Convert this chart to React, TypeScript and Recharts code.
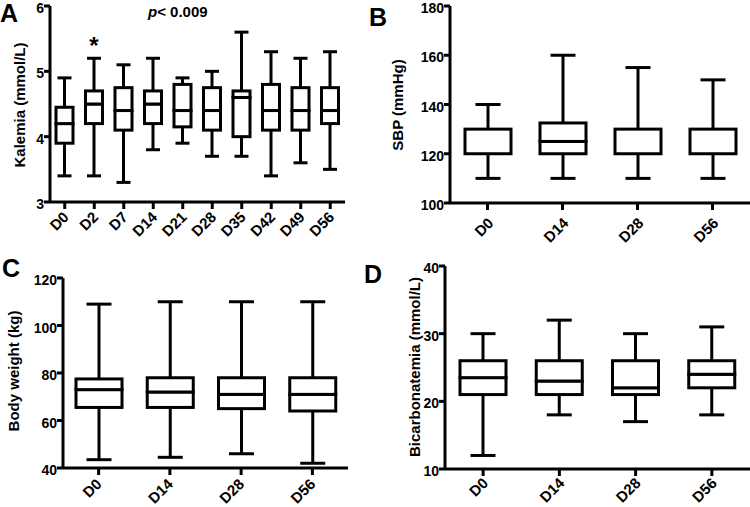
import { ComposedChart, Bar, XAxis, YAxis } from "recharts";

const FONT = '"Liberation Sans", Arial, Helvetica, sans-serif';

// A: kalemia
const kalCats = ["D0", "D2", "D7", "D14", "D21", "D28", "D35", "D42", "D49", "D56"];
const kalMin = [3.4, 3.4, 3.3, 3.8, 3.9, 3.7, 3.7, 3.4, 3.6, 3.5];
const kalQ1 = [3.9, 4.2, 4.1, 4.2, 4.15, 4.1, 4.0, 4.1, 4.1, 4.2];
const kalMed = [4.2, 4.5, 4.4, 4.5, 4.4, 4.4, 4.6, 4.4, 4.4, 4.4];
const kalQ3 = [4.45, 4.7, 4.75, 4.7, 4.8, 4.75, 4.7, 4.8, 4.75, 4.75];
const kalMax = [4.9, 5.2, 5.1, 5.2, 4.9, 5.0, 5.6, 5.3, 5.2, 5.3];
const kalMarks = ["", "*", "", "", "", "", "", "", "", ""];
const kalTicks = [3, 4, 5, 6];

// B: SBP
const visitCats = ["D0", "D14", "D28", "D56"];
const sbpMin = [110, 110, 110, 110];
const sbpQ1 = [120, 120, 120, 120];
const sbpMed = [120, 125, 120, 120];
const sbpQ3 = [130, 132.5, 130, 130];
const sbpMax = [140, 160, 155, 150];
const sbpTicks = [100, 120, 140, 160, 180];

// C: body weight
const bwMin = [43.5, 44.5, 46, 42];
const bwQ1 = [65.5, 65.5, 65, 64];
const bwMed = [73, 72, 71, 71];
const bwQ3 = [77.5, 78, 78, 78];
const bwMax = [109, 110, 110, 110];
const bwTicks = [40, 60, 80, 100, 120];

// D: bicarbonatemia
const bicMin = [12, 18, 17, 18];
const bicQ1 = [21, 21, 21, 22];
const bicMed = [23.5, 23, 22, 24];
const bicQ3 = [26, 26, 26, 26];
const bicMax = [30, 32, 30, 31];
const bicTicks = [10, 20, 30, 40];

function buildRows(cats, mins, q1s, meds, q3s, maxs, marks = []) {
  return cats.map((name, i) => ({
    name,
    base: mins[i],
    lw: q1s[i] - mins[i],
    bl: meds[i] - q1s[i],
    bh: q3s[i] - meds[i],
    hw: maxs[i] - q3s[i],
    mark: marks[i] || "",
  }));
}

const SW = 3;

const lowWhisker = (capW) => (p) => {
  const { x, y, width, height } = p;
  const cx = x + width / 2;
  const yb = y + height;
  return (
    <g stroke="#000" strokeWidth={SW}>
      <line x1={cx} x2={cx} y1={y} y2={yb} />
      <line x1={cx - capW / 2} x2={cx + capW / 2} y1={yb} y2={yb} />
    </g>
  );
};

const highWhisker = (capW) => (p) => {
  const { x, y, width, height, payload } = p;
  const cx = x + width / 2;
  return (
    <g>
      <g stroke="#000" strokeWidth={SW}>
        <line x1={cx} x2={cx} y1={y} y2={y + height} />
        <line x1={cx - capW / 2} x2={cx + capW / 2} y1={y} y2={y} />
      </g>
      {payload && payload.mark ? (
        <text x={cx} y={y - 4} textAnchor="middle" fontSize={24} fontWeight={700} fontFamily={FONT} fill="#000">
          {payload.mark}
        </text>
      ) : null}
    </g>
  );
};

const boxPart = (p) => {
  const { x, y, width, height } = p;
  if (!height || height <= 0) return <g />;
  return <rect x={x} y={y} width={width} height={height} fill="#fff" stroke="#000" strokeWidth={SW} />;
};

const makeXTick = (dx, dy) => (p) => {
  const { x, y, payload } = p;
  const ax = x + dx;
  const ay = y + dy;
  return (
    <text
      x={ax}
      y={ay}
      transform={`rotate(-45, ${ax}, ${ay})`}
      textAnchor="end"
      fontSize={15}
      fontWeight={700}
      fontFamily={FONT}
      fill="#000"
    >
      {payload.value}
    </text>
  );
};

const YTick = (p) => {
  const { x, y, payload } = p;
  return (
    <text x={x} y={y} dy="0.5em" textAnchor="end" fontSize={14} fontWeight={700} fontFamily={FONT} fill="#000">
      {payload.value}
    </text>
  );
};

function BoxPanel({ rows, ticks, width, height, margin, yWidth, xHeight, barSize, capW, tickDx, tickDy }) {
  return (
    <ComposedChart width={width} height={height} data={rows} margin={margin}>
      <XAxis
        dataKey="name"
        interval={0}
        height={xHeight}
        tick={makeXTick(tickDx, tickDy)}
        tickSize={7}
        tickMargin={0}
        stroke="#000"
        axisLine={{ stroke: "#000", strokeWidth: SW }}
        tickLine={{ stroke: "#000", strokeWidth: SW }}
      />
      <YAxis
        width={yWidth}
        domain={[ticks[0], ticks[ticks.length - 1]]}
        ticks={ticks}
        interval={0}
        allowDataOverflow
        tickSize={6}
        tickMargin={0}
        tick={YTick}
        stroke="#000"
        axisLine={{ stroke: "#000", strokeWidth: SW }}
        tickLine={{ stroke: "#000", strokeWidth: SW }}
      />
      <Bar dataKey="base" stackId="s" fill="transparent" barSize={barSize} isAnimationActive={false} />
      <Bar dataKey="lw" stackId="s" barSize={barSize} shape={lowWhisker(capW)} isAnimationActive={false} />
      <Bar dataKey="bl" stackId="s" barSize={barSize} shape={boxPart} isAnimationActive={false} />
      <Bar dataKey="bh" stackId="s" barSize={barSize} shape={boxPart} isAnimationActive={false} />
      <Bar dataKey="hw" stackId="s" barSize={barSize} shape={highWhisker(capW)} isAnimationActive={false} />
    </ComposedChart>
  );
}

const letterStyle = {
  position: "absolute",
  fontFamily: FONT,
  fontWeight: 700,
  fontSize: 25,
  lineHeight: "25px",
  color: "#000",
};

function YTitle({ text, cx, cy }) {
  return (
    <div
      style={{
        position: "absolute",
        left: cx,
        top: cy,
        transform: "translate(-50%, -50%) rotate(-90deg)",
        whiteSpace: "nowrap",
        fontFamily: FONT,
        fontWeight: 700,
        fontSize: 15,
        lineHeight: "15px",
        color: "#000",
      }}
    >
      {text}
    </div>
  );
}

export default function App() {
  const kalRows = buildRows(kalCats, kalMin, kalQ1, kalMed, kalQ3, kalMax, kalMarks);
  const sbpRows = buildRows(visitCats, sbpMin, sbpQ1, sbpMed, sbpQ3, sbpMax);
  const bwRows = buildRows(visitCats, bwMin, bwQ1, bwMed, bwQ3, bwMax);
  const bicRows = buildRows(visitCats, bicMin, bicQ1, bicMed, bicQ3, bicMax);

  return (
    <div style={{ position: "absolute", left: 0, top: 0, width: 750, height: 507, background: "#fff", overflow: "hidden" }}>
      <div style={{ position: "absolute", left: 0, top: -10 }}>
        <BoxPanel
          rows={kalRows}
          ticks={kalTicks}
          width={350}
          height={260}
          margin={{ top: 16, right: 5, left: 0, bottom: 0 }}
          yWidth={50}
          xHeight={48}
          barSize={17}
          capW={14}
          tickDx={5}
          tickDy={9}
        />
      </div>
      <div style={{ position: "absolute", left: 380, top: -10 }}>
        <BoxPanel
          rows={sbpRows}
          ticks={sbpTicks}
          width={370}
          height={260}
          margin={{ top: 16, right: 0, left: 0, bottom: 0 }}
          yWidth={70}
          xHeight={47}
          barSize={46}
          capW={25}
          tickDx={7}
          tickDy={14}
        />
      </div>
      <div style={{ position: "absolute", left: 0, top: 250 }}>
        <BoxPanel
          rows={bwRows}
          ticks={bwTicks}
          width={350}
          height={257}
          margin={{ top: 28, right: 2, left: 0, bottom: 0 }}
          yWidth={63}
          xHeight={39}
          barSize={46}
          capW={25}
          tickDx={4}
          tickDy={10}
        />
      </div>
      <div style={{ position: "absolute", left: 380, top: 250 }}>
        <BoxPanel
          rows={bicRows}
          ticks={bicTicks}
          width={370}
          height={257}
          margin={{ top: 16, right: 0, left: 0, bottom: 0 }}
          yWidth={65}
          xHeight={38}
          barSize={46}
          capW={25}
          tickDx={6}
          tickDy={8}
        />
      </div>

      <div style={{ ...letterStyle, left: 0, top: 1 }}>A</div>
      <div style={{ ...letterStyle, left: 369, top: 5 }}>B</div>
      <div style={{ ...letterStyle, left: 2, top: 256 }}>C</div>
      <div style={{ ...letterStyle, left: 364, top: 262 }}>D</div>

      <div
        style={{
          position: "absolute",
          left: 148,
          top: 4,
          fontFamily: FONT,
          fontWeight: 700,
          fontSize: 15,
          lineHeight: "15px",
          whiteSpace: "nowrap",
          color: "#000",
        }}
      >
        <i>p</i>&lt; 0.009
      </div>

      <YTitle text="Kalemia (mmol/L)" cx={19} cy={105} />
      <YTitle text="SBP (mmHg)" cx={397} cy={105} />
      <YTitle text="Body weight (kg)" cx={13} cy={371} />
      <YTitle text="Bicarbonatemia (mmol/L)" cx={414} cy={367} />
    </div>
  );
}
